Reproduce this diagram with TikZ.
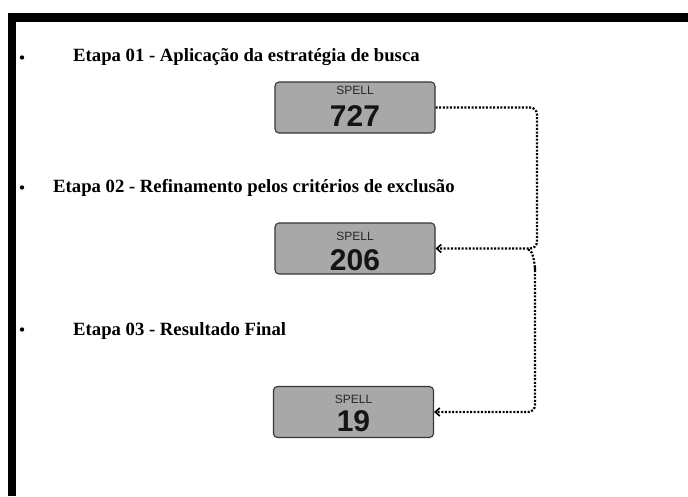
\documentclass[tikz,border=0pt]{standalone}
\usepackage{fontspec}
\setmainfont{Liberation Serif}
\newfontfamily\boxfont{Liberation Sans}
\usetikzlibrary{arrows.meta}
\definecolor{boxgray}{RGB}{168,168,168}
\definecolor{boxedge}{RGB}{55,55,55}
\definecolor{labgray}{RGB}{40,40,40}
\begin{document}
\begin{tikzpicture}[x=1pt,y=-1pt,
  frame/.style={fill=black,draw=none},
  stage/.style={anchor=base west,inner sep=0pt,font=\fontsize{18.7}{20}\selectfont\bfseries},
  bulletdot/.style={circle,fill=black,inner sep=0pt,minimum size=4.4pt},
  spellbox/.style={draw=boxedge,line width=1.1pt,fill=boxgray,rounded corners=4pt,minimum width=160pt,minimum height=51pt,inner sep=0pt},
  spelllab/.style={font=\boxfont\fontsize{12}{13}\selectfont,text=labgray,inner sep=0pt},
  spellnum/.style={font=\boxfont\fontsize{30}{32}\selectfont\bfseries,text=black!92,inner sep=0pt},
  conn/.style={line width=2.2pt,dash pattern=on 2pt off 1.6pt,rounded corners=7pt},
  tip/.style={-{Straight Barb[length=4.5pt,width=8pt,line width=1.6pt]}}
]
\useasboundingbox (0,0) rectangle (688,496);
\fill[white] (0,0) rectangle (688,496);
% frame bars
\path[frame] (8,13) rectangle (688,22);
\path[frame] (8,13) rectangle (16,496);
% stage texts
\node[bulletdot] (d1) at (22,57.5) {};
\node[stage] (s1) at (73,61) {Etapa 01 - Aplicação da estratégia de busca};
\node[bulletdot] (d2) at (22,187.5) {};
\node[stage] (s2) at (53,192) {Etapa 02 - Refinamento pelos critérios de exclusão};
\node[bulletdot] (d3) at (22,329.5) {};
\node[stage] (s3) at (73,335) {Etapa 03 - Resultado Final};
% boxes
\node[spellbox] (b1) at (355,107.5) {};
\node[spelllab] (l1) at (355,90) {SPELL};
\node[spellnum] (n1) at (355,116.5) {727};
\node[spellbox] (b2) at (355,248.5) {};
\node[spelllab] (l2) at (355,236) {SPELL};
\node[spellnum] (n2) at (355,260) {206};
\node[spellbox] (b3) at (353.5,412) {};
\node[spelllab] (l3) at (353.5,399) {SPELL};
\node[spellnum] (n3) at (353.5,421) {19};
% connectors
\coordinate (r1) at (537,107.5);
\coordinate (r2) at (537,248.5);
\coordinate (j) at (528,249.5);
\coordinate (c2) at (535,263);
\coordinate (r3) at (535,412);
\draw[conn,tip] (b1.east) -- (r1) -- (r2) -- (b2.east);
\draw[conn,tip] (j) to[out=0,in=-90] (c2) -- (r3) -- (b3.east);
\end{tikzpicture}
\end{document}
